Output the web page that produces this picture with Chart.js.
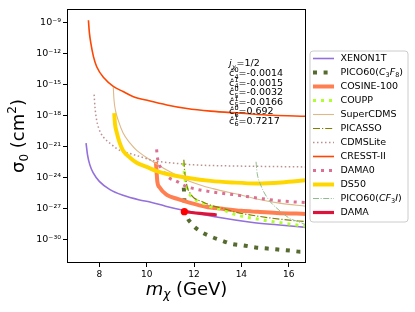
<!DOCTYPE html>
<html>
<head>
<meta charset="utf-8">
<script src="https://cdn.jsdelivr.net/npm/chart.js@4.4.1/dist/chart.umd.min.js"></script>
<style>
  html, body { margin: 0; padding: 0; background: #fff; }
  #wrap { width: 415px; height: 312px; }
</style>
</head>
<body>
<div id="wrap"><canvas id="limitsChart" width="415" height="312"></canvas></div>
<script>
// masses in GeV, cross sections as log10(sigma / cm^2)
const xenonMass = [7.44, 7.5, 7.6, 7.75, 8.0, 8.45, 9.0, 9.7, 10.14, 10.8, 11.55, 12.3, 12.95, 14.4, 15.5, 16.73];
const xenonSigma = [-20.7, -21.8, -22.8, -23.6, -24.4, -25.2, -25.75, -26.2, -26.4, -26.8, -27.2, -27.55, -27.85, -28.35, -28.6, -28.85];

const picoC3F8Mass = [11.57, 11.6, 11.67, 11.9, 12.25, 12.67, 13.14, 13.6, 14.1, 14.6, 15.1, 15.55, 16.05, 16.5, 16.73];
const picoC3F8Sigma = [-25.0, -26.5, -27.5, -28.5, -29.2, -29.7, -30.1, -30.45, -30.6, -30.8, -30.9, -31.0, -31.1, -31.2, -31.2];

const cosineMass = [10.39, 10.42, 10.45, 10.55, 10.85, 11.3, 11.8, 12.5, 13.2, 14.0, 14.7, 15.5, 16.73];
const cosineSigma = [-22.5, -23.5, -24.4, -25.0, -25.7, -26.1, -26.45, -26.85, -27.05, -27.25, -27.35, -27.45, -27.55];

const couppMass = [11.55, 11.58, 11.62, 11.7, 11.83, 12.0, 12.33, 12.7, 13.2, 13.8, 14.8, 15.8, 16.73];
const couppSigma = [-22.6, -23.3, -24.2, -25.0, -25.7, -26.1, -26.45, -26.85, -27.15, -27.65, -28.1, -28.45, -28.75];

const superCdmsMass = [8.59, 8.62, 8.68, 8.8, 9.0, 9.3, 9.58, 10.14, 10.85, 11.83, 12.8, 13.94, 14.65, 15.6, 16.73];
const superCdmsSigma = [-15.3, -16.5, -17.5, -18.5, -19.7, -20.7, -21.4, -22.3, -23.3, -24.4, -25.1, -25.7, -26.1, -26.5, -26.8];

const picassoMass = [11.57, 11.6, 11.65, 11.72, 11.85, 12.0, 12.33, 12.7, 13.2, 13.8, 14.8, 15.8, 16.73];
const picassoSigma = [-22.3, -23.3, -24.2, -25.0, -25.6, -26.0, -26.35, -26.7, -27.0, -27.4, -27.8, -28.1, -28.3];

const cdmsLiteMass = [7.78, 7.82, 7.89, 8.0, 8.17, 8.5, 8.87, 9.3, 9.72, 10.3, 11.0, 12.0, 13.5, 15.0, 16.73];
const cdmsLiteSigma = [-16.0, -17.3, -18.5, -19.4, -20.1, -20.8, -21.4, -21.7, -22.0, -22.4, -22.6, -22.8, -22.9, -22.95, -23.0];

const cresstMass = [7.54, 7.58, 7.64, 7.75, 7.89, 8.2, 8.59, 9.0, 9.44, 10.1, 10.85, 11.7, 12.7, 14.0, 15.3, 16.73];
const cresstSigma = [-8.8, -10.0, -11.0, -12.3, -13.3, -14.4, -15.2, -15.7, -16.2, -16.6, -17.0, -17.35, -17.6, -17.8, -18.0, -18.1];

const dama0Mass = [10.42, 10.45, 10.5, 10.64, 10.92, 11.27, 11.69, 12.18, 12.7, 13.17, 13.73, 14.65, 15.7, 16.73];
const dama0Sigma = [-21.3, -22.0, -22.6, -23.2, -24.0, -24.4, -24.9, -25.2, -25.4, -25.55, -25.7, -26.0, -26.3, -26.45];

const ds50Mass = [8.63, 8.66, 8.74, 8.85, 9.0, 9.3, 9.58, 10.0, 10.42, 11.0, 11.83, 12.7, 13.6, 14.65, 15.7, 16.73];
const ds50Sigma = [-17.8, -18.8, -19.7, -20.6, -21.4, -22.1, -22.6, -23.0, -23.4, -23.75, -24.1, -24.35, -24.5, -24.6, -24.5, -24.3];

const picoCF3IMass = [14.62, 14.65, 14.7, 14.79, 14.9, 15.07, 15.27, 15.5, 15.75, 16.06, 16.4, 16.73];
const picoCF3ISigma = [-22.5, -23.3, -24.0, -24.6, -25.2, -25.9, -26.5, -27.0, -27.5, -28.0, -28.3, -28.6];

const damaMass = [11.59, 12.25, 12.96];
const damaSigma = [-27.33, -27.5, -27.65];
const damaPointMass = [11.59];
const damaPointSigma = [-27.33];

const xTicks = [8, 10, 12, 14, 16];
const yTickExponents = [-9, -12, -15, -18, -21, -24, -27, -30];

const couplingLabels = [["0", "4"], ["1", "4"], ["0", "5"], ["1", "5"], ["0", "6"], ["1", "6"]];
const couplingValues = ["-0.0014", "-0.0015", "-0.0032", "-0.0166", "0.692", "0.7217"];

const FONT = "'DejaVu Sans', sans-serif";
const supMap = { "-": "\u207B", "0": "\u2070", "1": "\u00B9", "2": "\u00B2", "3": "\u00B3", "4": "\u2074", "5": "\u2075", "6": "\u2076", "7": "\u2077", "8": "\u2078", "9": "\u2079" };

function toPoints(masses, logs) {
    return masses.map((m, i) => ({ x: m, y: Math.pow(10, logs[i]) }));
}

function line(label, masses, logs, color, width, dash) {
    return {
        label: label,
        data: toPoints(masses, logs),
        borderColor: color,
        backgroundColor: color,
        borderWidth: width,
        borderDash: dash || [],
        borderCapStyle: "butt",
        pointRadius: 0,
        cubicInterpolationMode: "monotone",
        showLine: true
    };
}

const datasets = [
    line("XENON1T", xenonMass, xenonSigma, "#9370DB", 1.6),
    line("PICO60(C3F8)", picoC3F8Mass, picoC3F8Sigma, "#556B2F", 4, [4, 6.6]),
    line("COSINE-100", cosineMass, cosineSigma, "#FF7F50", 4),
    line("COUPP", couppMass, couppSigma, "#ADFF2F", 3, [3, 5]),
    line("SuperCDMS", superCdmsMass, superCdmsSigma, "#DEB887", 1.1),
    line("PICASSO", picassoMass, picassoSigma, "#808000", 1.2, [7, 2, 1.2, 2]),
    line("CDMSLite", cdmsLiteMass, cdmsLiteSigma, "#BC8F8F", 1.5, [1.5, 2.5]),
    line("CRESST-II", cresstMass, cresstSigma, "#FF4500", 1.6),
    line("DAMA0", dama0Mass, dama0Sigma, "#DB7093", 3, [3, 5]),
    line("DS50", ds50Mass, ds50Sigma, "#FFD700", 4),
    line("PICO60(CF3I)", picoCF3IMass, picoCF3ISigma, "#8FBC8F", 1, [6, 1.6, 1, 1.6]),
    line("DAMA", damaMass, damaSigma, "#DC143C", 3.2)
];
datasets.push({
    label: "DAMA point",
    data: toPoints(damaPointMass, damaPointSigma),
    showLine: false,
    pointRadius: 3.6,
    pointBackgroundColor: "#FF0000",
    pointBorderWidth: 0,
    hideInLegend: true
});
// later series on top, like the original plot
datasets.forEach((d, i) => { d.order = datasets.length - i; });

// frame, axis titles, coupling text and legend
const decorations = {
    id: "decorations",
    afterDatasetsDraw(chart) {
        const ctx = chart.ctx;
        const a = chart.chartArea;
        ctx.save();
        ctx.strokeStyle = "#000";
        ctx.lineWidth = 1;
        ctx.strokeRect(a.left + 0.5, a.top + 0.5, a.right - a.left - 1, a.bottom - a.top - 1);

        ctx.fillStyle = "#000";
        ctx.textBaseline = "alphabetic";

        // x title
        ctx.font = "italic 18px " + FONT;
        const mW = ctx.measureText("m").width;
        ctx.font = "italic 12px " + FONT;
        const chiW = ctx.measureText("\u03C7").width;
        ctx.font = "18px " + FONT;
        const restW = ctx.measureText(" (GeV)").width;
        let tx = (a.left + a.right) / 2 - (mW + chiW + restW) / 2;
        const ty = 295;
        ctx.font = "italic 18px " + FONT;
        ctx.fillText("m", tx, ty);
        ctx.font = "italic 12px " + FONT;
        ctx.fillText("\u03C7", tx + mW, ty + 3);
        ctx.font = "18px " + FONT;
        ctx.fillText(" (GeV)", tx + mW + chiW, ty);

        // y title
        ctx.save();
        ctx.translate(24, (a.top + a.bottom) / 2);
        ctx.rotate(-Math.PI / 2);
        ctx.font = "18px " + FONT;
        const sW = ctx.measureText("\u03C3").width;
        ctx.font = "12px " + FONT;
        const zW = ctx.measureText("0").width;
        ctx.font = "18px " + FONT;
        const cmW = ctx.measureText(" (cm").width;
        ctx.font = "12px " + FONT;
        const twoW = ctx.measureText("2").width;
        ctx.font = "18px " + FONT;
        const closeW = ctx.measureText(")").width;
        let yx = -(sW + zW + cmW + twoW + closeW) / 2;
        ctx.fillText("\u03C3", yx, 0); yx += sW;
        ctx.font = "12px " + FONT;
        ctx.fillText("0", yx, 4); yx += zW;
        ctx.font = "18px " + FONT;
        ctx.fillText(" (cm", yx, 0); yx += cmW;
        ctx.font = "12px " + FONT;
        ctx.fillText("2", yx, -8); yx += twoW;
        ctx.font = "18px " + FONT;
        ctx.fillText(")", yx, 0);
        ctx.restore();

        // coupling text
        const cx = 229;
        let cy = 66;
        ctx.font = "italic 9.5px " + FONT;
        ctx.fillText("j", cx, cy);
        ctx.font = "italic 6.5px " + FONT;
        ctx.fillText("\u03C7", cx + 3, cy + 3);
        ctx.font = "9.5px " + FONT;
        ctx.fillText("=1/2", cx + 7.5, cy);
        couplingLabels.forEach((lab, i) => {
            cy = 76 + i * 9.5;
            ctx.font = "9.5px " + FONT;
            ctx.fillText("\u0109", cx, cy);
            ctx.font = "6.5px " + FONT;
            ctx.fillText(lab[0], cx + 5.5, cy - 4);
            ctx.fillText(lab[1], cx + 5.5, cy + 2.5);
            ctx.font = "9.5px " + FONT;
            ctx.fillText("=" + couplingValues[i], cx + 9.5, cy);
        });
        ctx.restore();
    },
    afterDraw(chart) {
        const ctx = chart.ctx;
        const items = chart.data.datasets.filter(d => !d.hideInLegend);
        const bx = 310, by = 51, bw = 98, bh = 171, r = 3;
        ctx.save();
        ctx.beginPath();
        ctx.moveTo(bx + r, by);
        ctx.arcTo(bx + bw, by, bx + bw, by + bh, r);
        ctx.arcTo(bx + bw, by + bh, bx, by + bh, r);
        ctx.arcTo(bx, by + bh, bx, by, r);
        ctx.arcTo(bx, by, bx + bw, by, r);
        ctx.closePath();
        ctx.fillStyle = "rgba(255,255,255,0.8)";
        ctx.fill();
        ctx.strokeStyle = "#cccccc";
        ctx.lineWidth = 1;
        ctx.stroke();

        items.forEach((d, i) => {
            const y = 58.5 + i * 14;
            ctx.beginPath();
            ctx.setLineDash(d.borderDash || []);
            ctx.lineCap = "butt";
            ctx.lineWidth = d.borderWidth;
            ctx.strokeStyle = d.borderColor;
            ctx.moveTo(313, y);
            ctx.lineTo(334, y);
            ctx.stroke();
            ctx.setLineDash([]);

            ctx.fillStyle = "#000";
            ctx.textBaseline = "middle";
            const tx = 340.5;
            if (d.label === "PICO60(C3F8)" || d.label === "PICO60(CF3I)") {
                ctx.font = "9.5px " + FONT;
                let x = tx;
                ctx.fillText("PICO60(", x, y); x += ctx.measureText("PICO60(").width;
                const parts = d.label === "PICO60(C3F8)"
                    ? [["C", false], ["3", true], ["F", false], ["8", true]]
                    : [["CF", false], ["3", true], ["I", false]];
                parts.forEach(p => {
                    if (p[1]) {
                        ctx.font = "6.5px " + FONT;
                        ctx.fillText(p[0], x, y + 2.5);
                    } else {
                        ctx.font = "italic 9.5px " + FONT;
                        ctx.fillText(p[0], x, y);
                    }
                    x += ctx.measureText(p[0]).width;
                });
                ctx.font = "9.5px " + FONT;
                ctx.fillText(")", x, y);
            } else {
                ctx.font = "9.5px " + FONT;
                ctx.fillText(d.label, tx, y);
            }
        });
        ctx.restore();
    }
};

new Chart(document.getElementById("limitsChart"), {
    type: "scatter",
    data: { datasets: datasets },
    options: {
        responsive: false,
        animation: false,
        devicePixelRatio: 1,
        layout: { padding: { left: 0, top: 9, right: 109, bottom: 0 } },
        plugins: { legend: { display: false }, tooltip: { enabled: false } },
        scales: {
            x: {
                type: "linear",
                min: 6.635,
                max: 16.73,
                afterBuildTicks: scale => { scale.ticks = xTicks.map(v => ({ value: v })); },
                afterFit: scale => { scale.height = 49; },
                grid: { display: true, drawOnChartArea: false, drawTicks: true, tickLength: 4, color: "#000" },
                border: { display: false },
                ticks: { color: "#000", font: { family: FONT, size: 9 }, padding: 2, maxRotation: 0, autoSkip: false }
            },
            y: {
                type: "logarithmic",
                min: Math.pow(10, -32.3),
                max: Math.pow(10, -7.71),
                afterBuildTicks: scale => { scale.ticks = yTickExponents.map(e => ({ value: Math.pow(10, e) })); },
                afterFit: scale => { scale.width = 67; },
                grid: { display: true, drawOnChartArea: false, drawTicks: true, tickLength: 4, color: "#000" },
                border: { display: false },
                ticks: {
                    color: "#000",
                    font: { family: FONT, size: 9.5 },
                    padding: 2,
                    autoSkip: false,
                    callback: value => {
                        const e = String(Math.round(Math.log10(value)));
                        return "10" + e.split("").map(c => supMap[c]).join("");
                    }
                }
            }
        }
    },
    plugins: [decorations]
});
</script>
</body>
</html>
